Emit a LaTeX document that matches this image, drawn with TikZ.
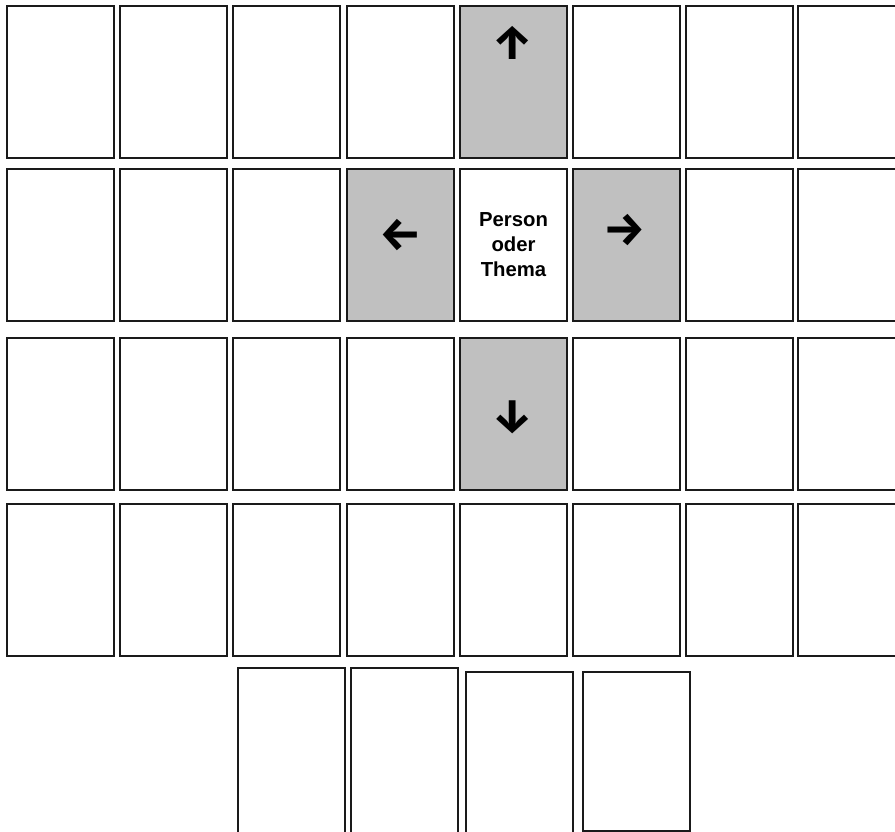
\documentclass[tikz,border=0pt]{standalone}
\usepackage{fontspec}
\setmainfont{Liberation Sans}
\newfontfamily\arrowfont{Fira Sans}
\usetikzlibrary{positioning}
\definecolor{cgrey}{HTML}{C0C0C0}
\definecolor{cline}{HTML}{1A1A1A}
\tikzset{
  every picture/.style={line width=1.5pt, x=1pt, y=-1pt},
  card/.style={draw=cline, fill=#1, anchor=north west, inner sep=0pt, outer sep=0pt, minimum width=107pt, minimum height=152pt},
  card/.default=white,
  pointer/.style={font=\arrowfont\bfseries\fontsize{47}{47}\selectfont, inner sep=0pt},
  topic/.style={font=\bfseries\fontsize{20.3}{25}\selectfont, align=center, inner sep=0pt},
}

\begin{document}
\begin{tikzpicture}
  \useasboundingbox (0,0) rectangle (895,832);
  \foreach \y [count=\r] in {6,169,338,504}
    \foreach \x [count=\c] in {7,120,233,347,460,573,686,798}
      \node[card] (c-\r-\c) at (\x,\y) {};
  \foreach \n in {c-1-5, c-2-4, c-2-6, c-3-5}
    \path[draw=cline, fill=cgrey] (\n.north west) rectangle (\n.south east);
  \node[topic] (topic) at (c-2-5) {Person\\oder\\Thema};
  \node[pointer] (up) at (513,43) {↑};
  \node[pointer] (left) at (401,235) {←};
  \node[pointer] (right) at (625,230) {→};
  \node[pointer] (down) at (513,417) {↓};
  \node[card, minimum height=170pt] (b-1) at (238,668) {};
  \node[card, minimum height=170pt] (b-2) at (351,668) {};
  \node[card, minimum height=170pt] (b-3) at (466,672) {};
  \node[card, minimum height=159pt] (b-4) at (583,672) {};
\end{tikzpicture}
\end{document}
